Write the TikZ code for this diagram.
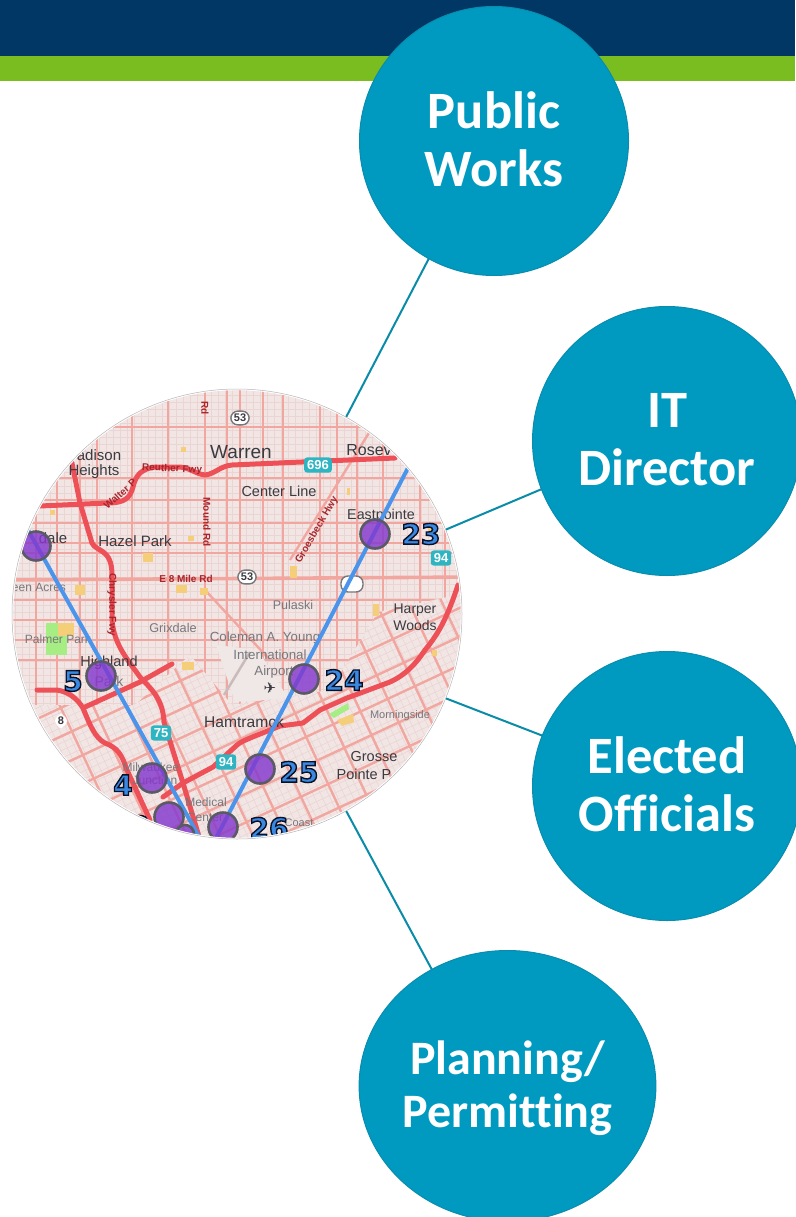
\documentclass[tikz,border=0pt]{standalone}
\usepackage{fontspec}
\setmainfont[Ligatures=NoCommon]{Carlito}
\newfontfamily\mapfont{Liberation Sans}
\newfontfamily\symfont{DejaVu Sans}
\usetikzlibrary{shapes.geometric}
\definecolor{navy}{HTML}{003764}
\definecolor{barGreen}{HTML}{7ABD20}
\definecolor{teal}{HTML}{009AC0}
\definecolor{tealEdge}{HTML}{0A8CAE}
\definecolor{linkTeal}{HTML}{0A8CA8}
\definecolor{mapBg}{HTML}{F2E6E5}
\definecolor{fineSt}{HTML}{EAD5D4}
\definecolor{street}{HTML}{F1A79F}
\definecolor{hwy}{HTML}{EE5058}
\definecolor{routeBlue}{HTML}{4A94EC}
\definecolor{dotFill}{HTML}{8438CE}
\definecolor{dotEdge}{HTML}{5A5A66}
\definecolor{numBlue}{HTML}{3A88E2}
\definecolor{shield}{HTML}{2FB4C2}
\definecolor{dk}{HTML}{3A3A40}
\definecolor{gy}{HTML}{77777C}
\definecolor{rd}{HTML}{A8262C}
\definecolor{parkG}{HTML}{A6EE84}
\definecolor{sandY}{HTML}{F4CE78}
\definecolor{apron}{HTML}{EFE8E6}
\newcommand{\strokedtext}[1]{\special{pdf:code 2 Tr 1.4 w 0.03 0.07 0.15 RG}#1\special{pdf:code 0 Tr 1 w}}
\newcommand{\lift}[3]{\raisebox{#1}[\height][\depth]{\begin{tabular}{@{}c@{}}#2\\#3\end{tabular}}}
\tikzset{
  topic/.style={circle,draw=tealEdge,line width=1pt,fill=teal,text=white,minimum size=269pt,inner sep=0pt,outer sep=0pt},
  topicfont/.style={font=\bfseries\fontsize{52.5}{58}\selectfont},
  link/.style={draw=linkTeal,line width=2pt},
  fine/.style={draw=fineSt,line width=.6pt},
  road/.style={draw=street,line width=2.4pt},
  freeway/.style={draw=hwy,line width=5pt,line cap=round,line join=round},
  route/.style={draw=routeBlue,line width=4pt},
  stop/.style={circle,fill=dotFill,fill opacity=.82,draw=dotEdge,draw opacity=1,line width=2.6pt,minimum size=29pt,inner sep=0pt},
  maplabel/.style={inner sep=0pt,font=\mapfont},
  numlabel/.style={inner sep=0pt,text=numBlue,font=\symfont\bfseries\fontsize{28}{28}\selectfont},
  roadlabel/.style={inner sep=0pt,text=rd,font=\mapfont\bfseries\fontsize{10}{10}\selectfont},
  shieldlabel/.style={inner sep=3pt,fill=shield,text=white,rounded corners=3pt,font=\mapfont\bfseries\fontsize{13}{13}\selectfont},
  roundlabel/.style={inner sep=3pt,fill=white,draw=gy,line width=1.4pt,text=dk,rounded corners=7pt,font=\mapfont\bfseries\fontsize{11}{11}\selectfont}
}
\begin{document}
\begin{tikzpicture}[x=1pt,y=-1pt]
\useasboundingbox (0,0) rectangle (795,1217);
\fill[white] (0,0) rectangle (795,1217);
\fill[navy] (0,0) rectangle (795,56);
\fill[barGreen] (0,56) rectangle (795,81);

\node[topic,topicfont] (works) at (494,141) {\lift{-4.5pt}{Public}{Works}};
\node[topic,topicfont] (it) at (667,441) {\lift{-4pt}{IT}{Director}};
\node[topic,topicfont] (elected) at (667,786) {\lift{-5pt}{Elected}{Officials}};
\node[ellipse,draw=tealEdge,line width=1pt,fill=teal,text=white,minimum width=296pt,minimum height=271pt,inner sep=0pt,outer sep=0pt,font=\bfseries\fontsize{48}{53}\selectfont] (planning) at (507.5,1086) {\lift{-4pt}{Planning/}{Permitting}};
\node[circle,minimum size=448pt,inner sep=0pt,outer sep=0pt] (map) at (237,614) {};

\draw[link] (map.61.6) -- (works.241.5);
\draw[link] (map.22) -- (it.201.7);
\draw[link] (map.-22) -- (elected.158.3);
\draw[link] (map.-61.6) -- (planning.123);

\begin{scope}
\clip (map.center) circle [radius=224pt];
\fill[mapBg] (0,380) rectangle (480,850);
% straight street grid in the north
\foreach \v in {8,15,...,470} {\draw[fine] (\v,385) -- (\v,720);}
\foreach \v in {388,395,...,720} {\draw[fine] (0,\v) -- (480,\v);}
\foreach \v in {427,478,500,523,543,553,600,620,640,660} {\draw[road] (0,\v) -- (480,\v);}
\foreach \v in {36,57,80,97,132,168,205,227,240,263,283,320,337,357,383,420,445} {\draw[road] (\v,385) -- (\v,720);}
\draw[draw=street,line width=3.6pt] (0,580) -- (480,577);
\draw[road] (205,590) -- (270,660);
\draw[road] (290,560) -- (372,428);
% rotated south grid
\fill[mapBg] (0,705) -- (135,705) -- (190,655) -- (232,705) -- (330,690) -- (378,612) -- (480,590) -- (480,850) -- (0,850) -- cycle;
\begin{scope}
\clip (0,705) -- (135,705) -- (190,655) -- (232,705) -- (330,690) -- (378,612) -- (480,590) -- (480,850) -- (0,850) -- cycle;
\begin{scope}[rotate around={25:(237,714)}]
\foreach \v in {-120,-113,...,600} {\draw[fine] (\v,400) -- (\v,1050);}
\foreach \v in {400,407,...,1050} {\draw[fine] (-120,\v) -- (600,\v);}
\foreach \v in {-100,-70,...,600} {\draw[road] (\v,400) -- (\v,1050);}
\foreach \v in {400,426,...,1050} {\draw[road] (-120,\v) -- (600,\v);}
\end{scope}
\end{scope}
% airport
\fill[apron] (216,645) -- (258,650) -- (288,698) -- (235,702) -- cycle;
\draw[draw=fineSt!70!gray,line width=2.5pt] (224,695) -- (250,652);
% parks and sand patches
\fill[parkG] (46,623) rectangle (67,655);
\fill[sandY] (58,623) rectangle (74,636);
\fill[parkG] (329,714) -- (348,703) -- (349,709) -- (334,718) -- cycle;
\fill[sandY] (337,720) -- (353,714) -- (354,722) -- (342,726) -- cycle;
\foreach \px/\py/\pw/\ph in {143/553/10/9, 176/585/11/8, 200/588/8/7, 181/447/5/5, 188/536/6/5, 75/585/10/10, 182/662/12/8, 290/566/7/12, 347/488/3/7, 373/604/6/12, 428/523/6/8, 50/510/5/5, 432/650/5/6} {
  \fill[sandY] (\px,\py) rectangle ++(\pw,\ph);
}
% freeways
\draw[freeway] (40,506) -- (107,503) .. controls (125,503) and (130,498) .. (133,487) .. controls (136,474) and (142,469) .. (155,467) -- (180,467) .. controls (190,468) and (196,474) .. (205,475) .. controls (215,474) and (220,466) .. (232,465) -- (395,458);
\draw[freeway] (72,463) -- (80,503) -- (92,543) .. controls (96,552) and (112,548) .. (112,575) -- (112,620) .. controls (114,645) and (128,660) .. (140,677) .. controls (150,688) and (163,698) .. (164,722) -- (183,783) -- (200,840);
\draw[freeway] (172,664) -- (140,682) -- (85,707);
\draw[freeway] (37,690) -- (57,690) .. controls (70,692) and (78,700) .. (83,708) .. controls (90,725) and (95,738) .. (105,743) .. controls (118,748) and (122,755) .. (127,770) -- (150,820);
\draw[freeway] (163,797) -- (183,783) -- (213,767) -- (237,745) .. controls (240,742) and (248,739) .. (255,736) -- (280,726) -- (303,723) -- (320,710) -- (347,698) -- (390,682) .. controls (405,675) and (415,665) .. (425,650) .. controls (440,632) and (448,615) .. (458,585);
% place names
\foreach \i/\x/\y/\s/\c/\t in {
 1/241/452/19/dk/Warren, 2/369/450/16/dk/Rosev, 3/279/491/14.5/dk/Center Line, 4/135/541/15/dk/Hazel Park,
 5/99/455/15/dk/adison, 6/94/472/15/dk/Heights, 7/53/538/15/dk/dale, 8/381/516/14.3/dk/Eastpointe,
 9/293/605/12.5/gy/Pulaski, 10/415/610/14/dk/Harper, 11/415/625/14/dk/Woods, 12/173/628/12.7/gy/Grixdale,
 13/265/638/13.3/gy/Coleman A. Young, 14/270/655/13.3/gy/International, 15/274/672/13.3/gy/Airport, 16/244/722/15.6/dk/Hamtramck,
 17/400/716/11/gy/Morningside, 18/374/757/14.5/dk/Grosse, 19/364/774/14.5/dk/Pointe P, 20/206/802/12/gy/Medical,
 21/205/817/12/gy/Center, 22/109/663/14.5/dk/Highland, 23/109/681/14/gy/Park, 24/151/767/12/gy/Milwaukee,
 25/155/780/12/gy/Junction, 26/58/639/12/gy/Palmer Park, 27/39/587/12/gy/een Acres, 28/299/823/11/gy/Coast} {
  \node[maplabel,text=\c,font=\mapfont\fontsize{\s}{\s}\selectfont] (place\i) at (\x,\y) {\t};
}
% road names
\node[roadlabel] (rn1) at (120,494) [rotate=42] {Walter P};
\node[roadlabel] (rn2) at (172,469) [rotate=-3] {Reuther Fwy};
\node[roadlabel] (rn3) at (207,522) [rotate=-90] {Mound Rd};
\node[roadlabel] (rn4) at (205,408) [rotate=-90] {Rd};
\node[roadlabel] (rn5) at (112,605) [rotate=-90] {Chrysler Fwy};
\node[roadlabel] (rn6) at (186,579) {E 8 Mile Rd};
\node[roadlabel] (rn7) at (317,530) [rotate=60] {Groesbeck Hwy};
% shields
\node[shieldlabel] (sh696) at (318,465) {696};
\node[shieldlabel] (sh94a) at (441,558) {94};
\node[shieldlabel] (sh75) at (161,733) {75};
\node[shieldlabel] (sh94b) at (226,762) {94};
\node[roundlabel] (r53a) at (240,418) {53};
\node[roundlabel] (r53b) at (247,577) {53};
\node[roundlabel,minimum width=22pt,minimum height=16pt] (roval) at (352,584) {};
\node[roundlabel,draw=none,rounded corners=8pt] (r8) at (61,721) {8};
\node[inner sep=0pt,text=dk,font=\symfont\fontsize{15}{15}\selectfont] (plane) at (270,688) {✈};
% routes
\coordinate (lineAtop) at (28,530);
\coordinate (lineAend) at (202,842);
\coordinate (lineBtop) at (409,466);
\coordinate (lineBend) at (214,842);
\draw[route] (lineAtop) -- (lineAend);
\draw[route] (lineBtop) -- (lineBend);
\foreach \i/\x/\y in {1/36/546, 2/101/676, 3/152/778, 4/169/817, 5/223/827, 6/260/769, 7/304/679, 8/375/534} {
  \node[stop] (dot\i) at (\x,\y) {};
}
\node[stop,minimum size=18pt] (dot9) at (185,834) {};
% stop numbers
\foreach \i/\x/\y/\t in {a/421/534/23, b/344/680/24, c/299/772/25, d/269/828/26, e/73/681/5, f/123/785/4, g/140/826/3} {
  \node[numlabel] (num\i) at (\x,\y) {\strokedtext{\t}};
}
\end{scope}
\draw[white,line width=1.4pt] (map.center) circle [radius=224.5pt];
\draw[gy!55,line width=.5pt] (map.center) circle [radius=225pt];
\end{tikzpicture}
\end{document}
